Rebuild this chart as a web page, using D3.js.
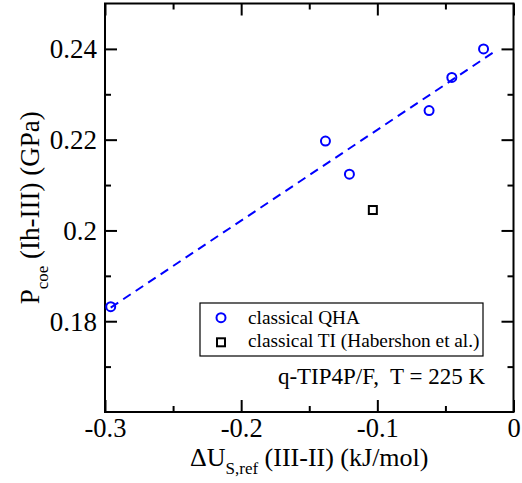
<!DOCTYPE html>
<html><head><meta charset="utf-8">
<script src="https://cdn.jsdelivr.net/npm/d3@7"></script>
<style>body{margin:0;background:#fff}svg{display:block}text{font-family:"Liberation Serif","Times New Roman",serif}</style>
</head><body><svg id="c" width="522" height="483"></svg>
<script>
// Data
const qhaX = [-0.2958, -0.1381, -0.1205, -0.0620, -0.0453, -0.0220];
const qhaY = [0.1832, 0.2197, 0.2124, 0.2264, 0.2337, 0.2400];
const tiX = [-0.1033];
const tiY = [0.2045];
const fitX = [-0.2958, -0.0149];
const fitY = [0.1830, 0.2392];
const xTicks = [-0.3, -0.2, -0.1, 0];
const xTickLabels = ["-0.3", "-0.2", "-0.1", "0"];
const xMinor = [-0.25, -0.15, -0.05];
const yTicks = [0.18, 0.2, 0.22, 0.24];
const yTickLabels = ["0.18", "0.2", "0.22", "0.24"];
const yMinor = [0.17, 0.19, 0.21, 0.23];
const legendLabels = ["classical QHA", "classical TI (Habershon et al.)"];

const svg = d3.select("#c");
const L = 105, R = 513.5, T = 3.5, B = 412;
const x = d3.scaleLinear().domain([-0.3, 0]).range([L, R]);
const y = d3.scaleLinear().domain([0.16, 0.25]).range([B, T]);

// fit line
const line = d3.line().x(d => x(d[0])).y(d => y(d[1]));
svg.append("path").attr("d", line(d3.zip(fitX, fitY)))
  .attr("fill", "none").attr("stroke", "#0000ff").attr("stroke-width", 2)
  .attr("stroke-dasharray", "9,6");

// frame
svg.append("rect").attr("x", L).attr("y", T).attr("width", R - L).attr("height", B - T)
  .attr("fill", "none").attr("stroke", "#000").attr("stroke-width", 2);

// axes with inward ticks
const tk = 12, tkm = 6;
function ax(gen, tr, vals, size, labels) {
  const g = svg.append("g").attr("transform", tr)
    .call(gen.tickValues(vals).tickSize(size).tickSizeOuter(0)
      .tickFormat(labels ? (d, i) => labels[i] : ""));
  g.select(".domain").remove();
  g.selectAll(".tick line").attr("stroke-width", 2);
  return g;
}
const gxb = ax(d3.axisBottom(x), `translate(0,${B})`, xTicks, -tk, xTickLabels);
gxb.selectAll("text").attr("y", 25).attr("dy", 0).style("font-size", "26.5px").attr("fill", "#000");
ax(d3.axisBottom(x), `translate(0,${B})`, xMinor, -tkm, null);
ax(d3.axisTop(x), `translate(0,${T})`, xTicks, -tk, null);
ax(d3.axisTop(x), `translate(0,${T})`, xMinor, -tkm, null);
const gyl = ax(d3.axisLeft(y), `translate(${L},0)`, yTicks, -tk, yTickLabels);
gyl.selectAll("text").attr("x", -8).attr("dy", "0.33em").style("font-size", "27px").attr("fill", "#000");
ax(d3.axisLeft(y), `translate(${L},0)`, yMinor, -tkm, null);
ax(d3.axisRight(y), `translate(${R},0)`, yTicks, -tk, null);
ax(d3.axisRight(y), `translate(${R},0)`, yMinor, -tkm, null);

// points
svg.append("g").selectAll("circle").data(d3.zip(qhaX, qhaY)).join("circle")
  .attr("cx", d => x(d[0])).attr("cy", d => y(d[1])).attr("r", 4.5)
  .attr("fill", "none").attr("stroke", "#0000ff").attr("stroke-width", 2);
svg.append("g").selectAll("rect").data(d3.zip(tiX, tiY)).join("rect")
  .attr("x", d => x(d[0]) - 4).attr("y", d => y(d[1]) - 4).attr("width", 8).attr("height", 8)
  .attr("fill", "none").attr("stroke", "#000").attr("stroke-width", 2);

// legend
const lg = svg.append("g");
lg.append("rect").attr("x", 200).attr("y", 303).attr("width", 283).attr("height", 53)
  .attr("fill", "#fff").attr("stroke", "#000").attr("stroke-width", 1.2);
lg.append("circle").attr("cx", 221).attr("cy", 317.7).attr("r", 4.5)
  .attr("fill", "none").attr("stroke", "#0000ff").attr("stroke-width", 2);
lg.append("rect").attr("x", 217).attr("y", 338.3).attr("width", 8).attr("height", 8)
  .attr("fill", "none").attr("stroke", "#000").attr("stroke-width", 2);
lg.selectAll("text").data(legendLabels).join("text")
  .attr("x", 248).attr("y", (d, i) => 323.5 + i * 23.5)
  .style("font-size", "19.3px").text(d => d);

// annotation
svg.append("text").attr("x", 485).attr("y", 384).attr("text-anchor", "end")
  .style("font-size", "23px").attr("xml:space", "preserve").text("q-TIP4P/F,  T = 225 K");

// axis titles
const xt = svg.append("text").attr("x", (L + R) / 2).attr("y", 466).attr("text-anchor", "middle")
  .style("font-size", "26px");
xt.append("tspan").text("\u0394U");
xt.append("tspan").attr("dy", 8).style("font-size", "17px").text("S,ref");
xt.append("tspan").attr("dy", -8).text(" (III-II) (kJ/mol)");

const yt = svg.append("text").attr("transform", `translate(39,${(T + B) / 2}) rotate(-90)`)
  .attr("text-anchor", "middle").style("font-size", "27px");
yt.append("tspan").text("P");
yt.append("tspan").attr("dy", 9).style("font-size", "17px").text("coe");
yt.append("tspan").attr("dy", -9).text(" (Ih-III) (GPa)");
</script></body></html>
